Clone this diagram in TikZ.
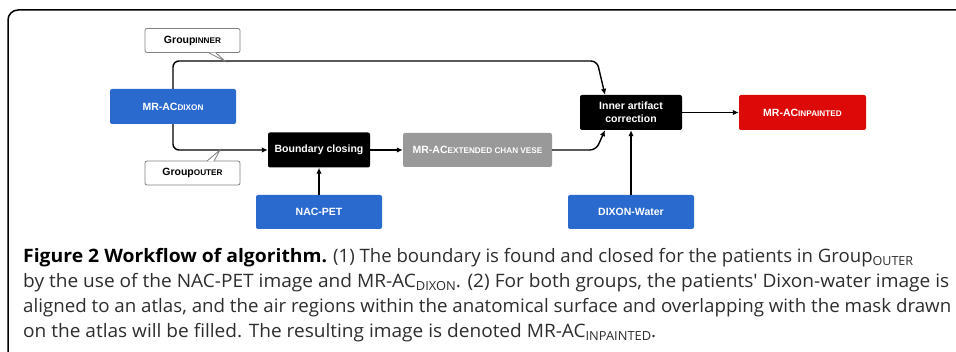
\documentclass[tikz,border=0pt]{standalone}
\usepackage{fontspec}
\usepackage{graphicx}
\setmainfont{Liberation Sans}
\newfontfamily\capfont{Open Sans}
\usetikzlibrary{arrows.meta}
\definecolor{boxblue}{RGB}{42,106,206}
\definecolor{boxred}{RGB}{221,8,8}
\definecolor{boxgray}{RGB}{153,153,153}
\definecolor{captxt}{RGB}{45,45,45}
\newcommand{\smcp}[1]{{\fontsize{8.2}{8}\selectfont #1}}
\newcommand{\capsub}[1]{\raisebox{-0.3ex}{\fontsize{12.5}{12.5}\selectfont #1}}
\newcommand{\capline}[2]{\resizebox{#1}{\height}{#2}}
\begin{document}
\begin{tikzpicture}[x=1pt,y=-1pt,
  box/.style={rounded corners=2pt, inner sep=0pt, minimum height=35pt,
    font=\fontsize{10.5}{12}\selectfont\bfseries, text=white, align=center},
  bluebox/.style={box, fill=boxblue, minimum width=126pt},
  blackbox/.style={box, fill=black, minimum width=102pt},
  graybox/.style={box, fill=boxgray, minimum width=149pt, minimum height=34pt},
  redbox/.style={box, fill=boxred, minimum width=127pt},
  callout/.style={draw=black!50, line width=0.8pt, fill=white, rounded corners=2pt,
    minimum width=95pt, minimum height=24pt, inner sep=0pt,
    font=\fontsize{10.5}{12}\selectfont\bfseries},
  conn/.style={line width=1.4pt, -{Latex[length=6pt,width=5.5pt]}},
  capnode/.style={anchor=base west, inner sep=0pt, text=captxt,
    font=\capfont\fontsize{18.5}{20}\selectfont}
]
\path[use as bounding box] (0,0) rectangle (956,352);
\begin{scope}
  \clip (0,0) rectangle (956,352);
  \draw[line width=1.5pt, rounded corners=10pt] (8,10) rectangle (1000,420);
\end{scope}

% nodes
\node[callout] (ginner) at (192.5,40.5) {Group\smcp{INNER}};
\node[callout] (gouter) at (192.5,173) {Group\smcp{OUTER}};
\node[bluebox] (dixon) at (173,106.5) {MR-AC\smcp{DIXON}};
\node[blackbox] (bclose) at (319,150) {Boundary closing};
\node[graybox] (mrext) at (477.5,150) {MR-AC\smcp{EXTENDED CHAN VESE}};
\node[bluebox, minimum height=34pt] (nacpet) at (319,212) {NAC-PET};
\node[blackbox, font=\fontsize{10.5}{12.5}\selectfont\bfseries] (inner) at (631,112.5) {Inner artifact\\correction};
\node[redbox] (inpaint) at (802.5,112.5) {MR-AC\smcp{INPAINTED}};
\node[bluebox, minimum height=34pt] (water) at (631,212) {DIXON-Water};

\coordinate (tcorner) at (597,61);
\coordinate (bcorner) at (596,150);
\coordinate (innerin) at ([xshift=-26pt]inner.north);
\coordinate (innerbot) at ([xshift=-26pt]inner.south);

% connectors
\draw[conn, rounded corners=6pt] (dixon.north) |- (tcorner) -- (innerin);
\draw[conn, rounded corners=6pt] (dixon.south) |- (bclose.west);
\draw[conn] (bclose.east) -- (mrext.west);
\draw[conn] (nacpet.north) -- (bclose.south);
\draw[conn, rounded corners=6pt] (mrext.east) -- (bcorner) -- (innerbot);
\draw[conn] (water.north) -- (inner.south);
\draw[conn] (inner.east) -- (inpaint.west);

% callout tails
\coordinate (ti) at (225,61);
\coordinate (to) at (220,150);
\fill[white] (209,52.6) -- (ti) -- (216,52.6) -- cycle;
\draw[black!50, line width=0.8pt] (209,53) -- (ti) -- (216,53);
\fill[white] (207,161.4) -- (to) -- (214,161.4) -- cycle;
\draw[black!50, line width=0.8pt] (207,161) -- (to) -- (214,161);

% caption
\node[capnode, text=black] (c1a) at (23,263) {\capline{304pt}{\bfseries Figure 2 Workflow of algorithm.}};
\node[capnode] (c1b) at (333,263) {\capline{580pt}{(1) The boundary is found and closed for the patients in Group\capsub{OUTER}}};
\node[capnode] (c2) at (23,288) {\capline{926pt}{by the use of the NAC-PET image and MR-AC\capsub{DIXON}. (2) For both groups, the patients' Dixon-water image is}};
\node[capnode] (c3) at (23,313) {\capline{928pt}{aligned to an atlas, and the air regions within the anatomical surface and overlapping with the mask drawn}};
\node[capnode] (c4) at (23,338) {\capline{633pt}{on the atlas will be filled. The resulting image is denoted MR-AC\capsub{INPAINTED}.}};
\end{tikzpicture}
\end{document}
